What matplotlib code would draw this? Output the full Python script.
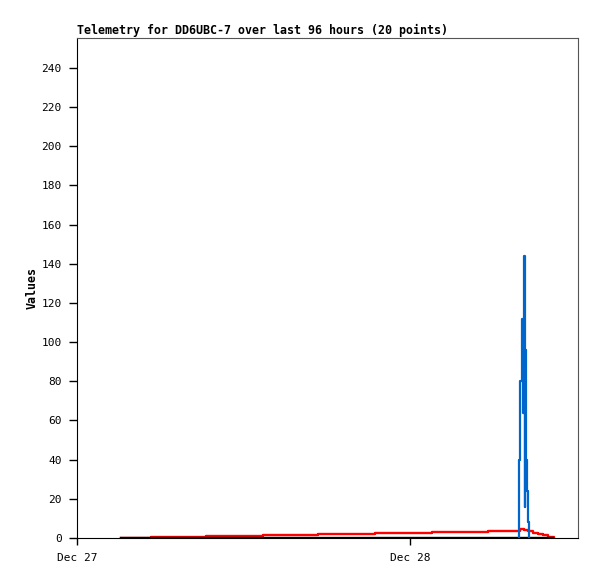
import numpy as np
import matplotlib
matplotlib.use("Agg")
from matplotlib import pyplot as plt

# hours since Dec 27 00:00
black_hours = [3.2, 34.3]
black_vals = [0.0, 0.0]

red_hours = [3.2, 5.3, 9.3, 13.4, 17.4, 21.5, 25.6, 29.6, 31.93, 32.19, 32.5,
             32.86, 33.2, 33.6, 33.95, 34.4]
red_vals = [0.2, 0.7, 1.2, 1.7, 2.2, 2.7, 3.2, 3.7, 4.6, 4.2, 3.5,
            2.8, 2.1, 1.4, 0.7, 0.0]

blue_hours = [31.84, 31.86, 31.93, 32.05, 32.12, 32.19, 32.25, 32.29, 32.36,
              32.43, 32.50, 32.55]
blue_vals = [0, 40, 80, 112, 64, 144, 16, 96, 40, 24, 8, 0]

xtick_hours = [0, 24]
xtick_labels = ["Dec 27", "Dec 28"]
yticks = list(range(0, 241, 20))

W, H = 597, 579
fig = plt.figure(figsize=(W / 100, H / 100), dpi=100)
ax = fig.add_axes([77 / W, (H - 538) / H, 501 / W, 500 / H])

mono = "DejaVu Sans Mono"

ax.plot(red_hours, red_vals, drawstyle="steps-post", color="#ff0000", lw=1.7)
ax.plot(black_hours, black_vals, drawstyle="steps-post", color="black", lw=1.7)
ax.plot(blue_hours, blue_vals, drawstyle="steps-post", color="#0066cc", lw=1.6)

ax.set_xlim(0, 36.1)
ax.set_ylim(0, 255.3)
ax.set_xticks(xtick_hours)
ax.set_xticklabels(xtick_labels, fontfamily=mono, fontsize=8)
ax.set_yticks(yticks)
ax.set_yticklabels([str(v) for v in yticks], fontfamily=mono, fontsize=8)
ax.tick_params(axis="y", length=6, width=1, pad=5)
ax.tick_params(axis="x", length=5, width=1, pad=6)

for side in ["top", "right"]:
    ax.spines[side].set_color("#555555")
for side in ["left", "bottom"]:
    ax.spines[side].set_color("black")

ax.set_ylabel("Values", fontfamily=mono, fontsize=8.4, fontweight="bold", labelpad=2)
ax.set_title("Telemetry for DD6UBC-7 over last 96 hours (20 points)",
             fontfamily=mono, fontsize=8.4, fontweight="bold", loc="left", pad=3)

fig.savefig("out.png", dpi=100)
